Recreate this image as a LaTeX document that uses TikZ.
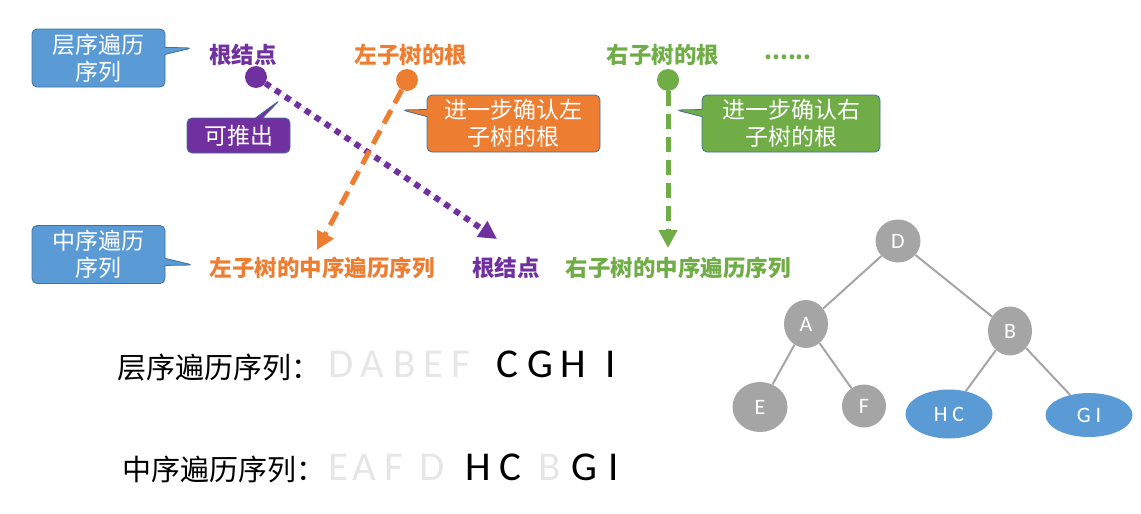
\documentclass[tikz,border=0pt]{standalone}
\usepackage{fontspec}
\setmainfont{Noto Sans CJK SC}
\newfontfamily\latinfont{Carlito}
\usetikzlibrary{arrows.meta, shapes.callouts, shapes.geometric}
\definecolor{calloutblue}{HTML}{5B9BD5}
\definecolor{calloutline}{HTML}{41719C}
\definecolor{rootpurple}{HTML}{7030A0}
\definecolor{leftorange}{HTML}{ED7D31}
\definecolor{rightgreen}{HTML}{70AD47}
\definecolor{treegray}{HTML}{A5A5A5}
\definecolor{fadegray}{HTML}{E7E6E6}

\begin{document}
\begin{tikzpicture}[x=1pt, y=-1pt,
  bubble/.style={rectangle callout, rounded corners=5pt, draw=calloutline, line width=0.8pt,
                 text=white, align=center, inner sep=0pt, font=\fontsize{23}{27}\selectfont},
  lbl/.style={font=\fontsize{22.5}{24}\selectfont\bfseries},
  headdot/.style={circle, inner sep=0pt, minimum size=22pt},
  seqhead/.style={anchor=base west, font=\fontsize{29}{30}\selectfont},
  seqchar/.style={anchor=base, font=\latinfont\fontsize{41}{43}\selectfont},
  treenode/.style={ellipse, fill=treegray, text=white, inner sep=0pt,
                   font=\latinfont\fontsize{22}{23}\selectfont},
  edge/.style={draw=treegray, line width=2pt},
  arr/.style={-{Triangle[length=18pt, width=18pt]}}
]
\useasboundingbox (0,0) rectangle (1141,514);

% pointer targets
\coordinate (seqLpt)   at (192,48);
\coordinate (inferpt)  at (280,100);
\coordinate (leftpt)   at (402,110);
\coordinate (rightpt)  at (676,110);
\coordinate (inLpt)    at (193,265);

% callouts
\node[bubble, fill=calloutblue, minimum width=133pt, minimum height=58pt,
      callout absolute pointer={(seqLpt)}] (seqL) at (98.5,58) {层序遍历\\序列};
\node[bubble, fill=rootpurple, minimum width=103pt, minimum height=35pt,
      callout absolute pointer={(inferpt)}] (infer) at (238.5,135.5) {可推出};
\node[bubble, fill=leftorange, minimum width=173pt, minimum height=57pt,
      callout absolute pointer={(leftpt)}] (leftconf) at (513.5,123.5) {进一步确认左\\子树的根};
\node[bubble, fill=rightgreen, minimum width=178pt, minimum height=57pt,
      callout absolute pointer={(rightpt)}] (rightconf) at (791,123.5) {进一步确认右\\子树的根};
\node[bubble, fill=calloutblue, minimum width=133pt, minimum height=58pt,
      callout absolute pointer={(inLpt)}] (inL) at (98.5,254.5) {中序遍历\\序列};

% top row labels
\node[lbl, text=rootpurple] (roottop)  at (243,55) {根结点};
\node[lbl, text=leftorange] (lefttop)  at (411,55) {左子树的根};
\node[lbl, text=rightgreen] (righttop) at (663,55) {右子树的根};
\node[lbl, text=rightgreen] (moretop)  at (788,57) {......};

% bottom row labels
\node[lbl, text=leftorange] (leftin)  at (322,268) {左子树的中序遍历序列};
\node[lbl, text=rootpurple] (rootin)  at (506,268) {根结点};
\node[lbl, text=rightgreen] (rightin) at (678,268) {右子树的中序遍历序列};

% dots and arrows
\node[headdot, fill=rootpurple] (rootdot)  at (256,77) {};
\node[headdot, fill=leftorange] (leftdot)  at (407,80) {};
\node[headdot, fill=rightgreen] (rightdot) at (668,80) {};
\coordinate (roottip)  at (497,239);
\coordinate (lefttip)  at (317,250);
\coordinate (righttip) at (668,248);
\draw[arr, draw=rootpurple, fill=rootpurple, line width=6pt, dash pattern=on 6pt off 6pt] (rootdot) -- (roottip);
\draw[arr, draw=leftorange, fill=leftorange, line width=5pt, dash pattern=on 15pt off 8pt] (leftdot) -- (lefttip);
\draw[arr, draw=rightgreen, fill=rightgreen, line width=5pt, dash pattern=on 15pt off 8pt] (rightdot) -- (righttip);

% sequences
\node[seqhead] (levhead) at (114,378) {层序遍历序列：};
\foreach \ch/\xx/\col [count=\i] in {D/341/fadegray, A/372/fadegray, B/405/fadegray, E/434/fadegray,
    F/461/fadegray, C/507/black, G/540/black, H/573/black, I/611/black}
  \node[seqchar, text=\col] (lev\i) at (\xx,377) {\ch};
\node[seqhead] (inhead) at (119,480) {中序遍历序列：};
\foreach \ch/\xx/\col [count=\i] in {E/339/fadegray, A/364/fadegray, F/394/fadegray, D/432/fadegray,
    H/478/black, C/510/black, B/550/fadegray, G/584/black, I/614/black}
  \node[seqchar, text=\col] (in\i) at (\xx,480) {\ch};

% tree
\node[treenode, minimum width=45pt, minimum height=43pt] (nD) at (898,241) {D};
\node[treenode, minimum width=44pt, minimum height=48pt] (nA) at (806,324) {A};
\node[treenode, minimum width=44pt, minimum height=49pt] (nB) at (1010,331) {B};
\node[treenode, minimum width=55pt, minimum height=50pt] (nE) at (760,407) {E};
\node[treenode, minimum width=44pt, minimum height=43pt] (nF) at (864,406) {F};
\node[treenode, fill=calloutblue, minimum width=87pt, minimum height=49pt] (nHC) at (949,414) {H C};
\node[treenode, fill=calloutblue, minimum width=87pt, minimum height=44pt] (nGI) at (1089,415) {G I};
\draw[edge] (nD) -- (nA);
\draw[edge] (nD) -- (nB);
\draw[edge] (nA) -- (nE);
\draw[edge] (nA) -- (nF);
\draw[edge] (nB) -- (nHC);
\draw[edge] (nB) -- (nGI);
\end{tikzpicture}
\end{document}
